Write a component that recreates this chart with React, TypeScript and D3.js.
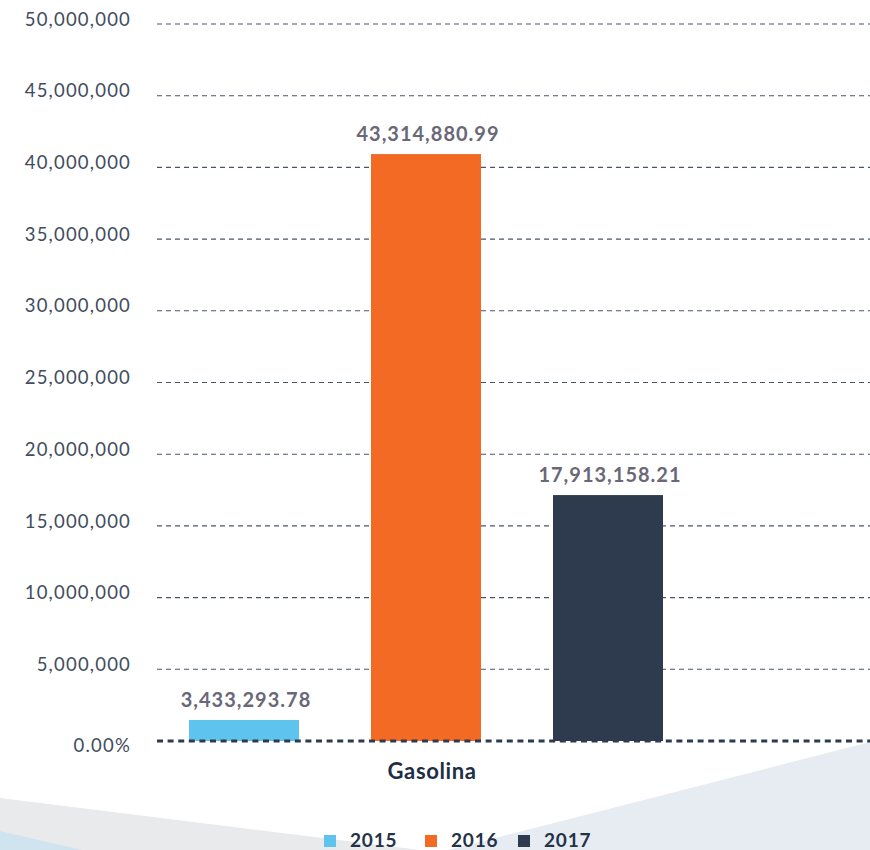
import React from "react";
import * as d3 from "d3";

const categories = ["Gasolina"];
const series = ["2015", "2016", "2017"];
// bar heights as drawn in the picture
const barValues = [1464000, 40930000, 17150000];
// data labels printed above the bars
const barLabels = ["3,433,293.78", "43,314,880.99", "17,913,158.21"];
const colors = ["#5ec4ee", "#f26a24", "#2e3b4e"];
const yTicks = [0, 5000000, 10000000, 15000000, 20000000, 25000000, 30000000, 35000000, 40000000, 45000000, 50000000];
const yTickLabels = ["0.00%", "5,000,000", "10,000,000", "15,000,000", "20,000,000", "25,000,000", "30,000,000", "35,000,000", "40,000,000", "45,000,000", "50,000,000"];

const W = 870;
const H = 850;

export default function App() {
  const y = d3.scaleLinear().domain([0, 50000000]).range([741, 24]);
  const x = d3.scaleBand<string>().domain(series).range([189, 663]).paddingInner(0.3956).paddingOuter(0);
  const gridX0 = 157;
  const gridX1 = W;
  const groupCenter = (x.range()[0] + x.range()[1]) / 2 + 6;
  const font = "Lato, 'Open Sans', sans-serif";

  const legendItems = series.map((s, i) => ({ s, c: colors[i] }));
  const legendX = [324, 425, 518];

  return (
    <svg width={W} height={H} style={{ position: "absolute", left: 0, top: 0, background: "#fff" }}>
      {/* background decoration */}
      <polygon points={`0,798 420,${H} 0,${H}`} fill="#e9eaec" />
      <polygon points={`${W},742 448,${H} ${W},${H}`} fill="#e7ecf3" />
      <polygon points={`0,831 82,${H} 0,${H}`} fill="#cfe4ef" />

      {/* gridlines */}
      {yTicks.filter((t) => t !== 0).map((t) => (
        <line key={t} x1={gridX0} x2={gridX1} y1={y(t)} y2={y(t)} stroke="#4a5568" strokeWidth={1.1} strokeDasharray="5,4" />
      ))}

      {/* y tick labels */}
      {yTicks.map((t, i) => (
        <text key={"l" + t} x={131} y={y(t) + (t === 0 ? 6 : -3)} textAnchor="end" dominantBaseline="middle"
          fontFamily={font} fontWeight={400} fontSize={18.5} letterSpacing={1.2} fill="#414c5d">
          {yTickLabels[i]}
        </text>
      ))}

      {/* bars */}
      {series.map((s, i) => (
        <rect key={s} x={x(s)} y={y(barValues[i])} width={x.bandwidth()} height={y(0) - y(barValues[i])} fill={colors[i]} />
      ))}

      {/* baseline */}
      <line x1={gridX0} x2={gridX1} y1={y(0)} y2={y(0)} stroke="#2e3b4e" strokeWidth={3} strokeDasharray="6,4.6" />

      {/* data labels */}
      {series.map((s, i) => (
        <text key={"d" + s} x={(x(s) as number) + x.bandwidth() / 2 + 2} y={y(barValues[i]) - 13} textAnchor="middle"
          fontFamily={font} fontWeight={700} fontSize={20} letterSpacing={1} fill="#6a6878">
          {barLabels[i]}
        </text>
      ))}

      {/* category label */}
      <text x={groupCenter} y={779} textAnchor="middle" fontFamily={font} fontWeight={700} fontSize={22} letterSpacing={0.6} fill="#1d2f45">
        {categories[0]}
      </text>

      {/* legend */}
      {legendItems.map((d, i) => (
        <g key={"lg" + d.s} transform={`translate(${legendX[i]},0)`}>
          <rect x={0} y={835} width={12} height={12} fill={d.c} />
          <text x={26} y={847} fontFamily={font} fontWeight={700} fontSize={19} letterSpacing={0.8} fill="#243247">
            {d.s}
          </text>
        </g>
      ))}
    </svg>
  );
}
